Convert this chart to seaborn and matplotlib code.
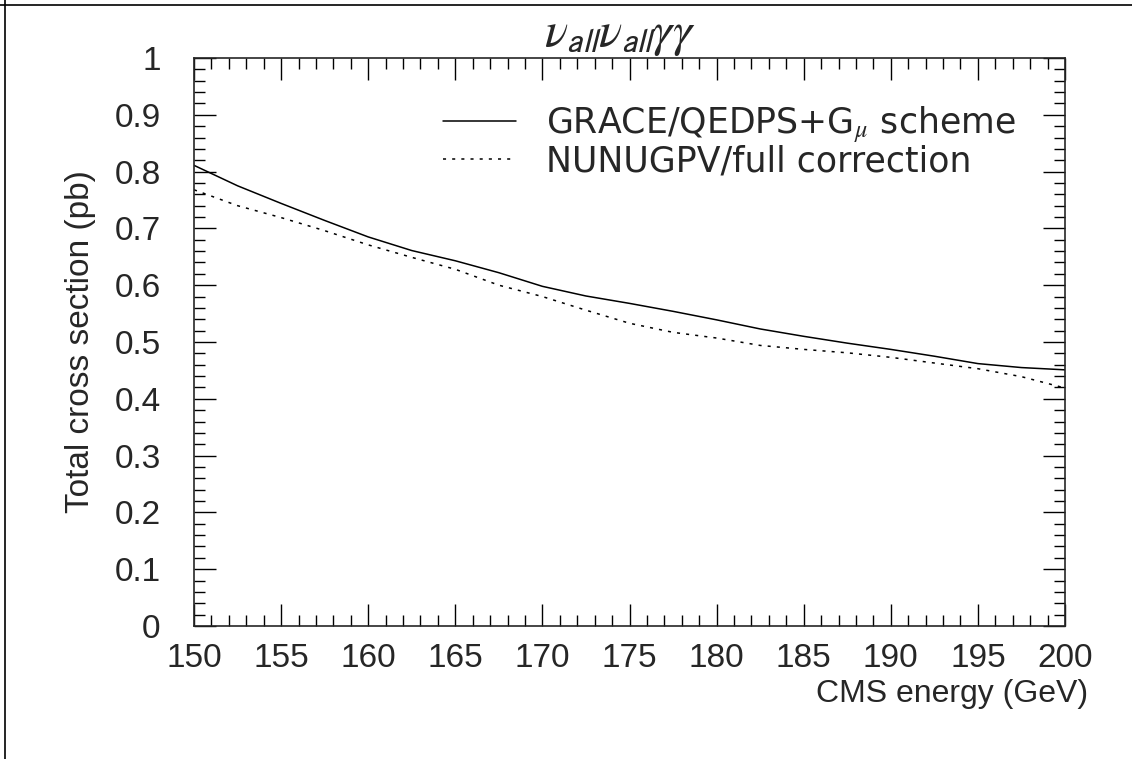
"""
Total cross section for nu nu gamma gamma versus CMS energy.
"""

import numpy as np
import pandas as pd
import seaborn as sns
import matplotlib.pyplot as plt
from matplotlib.lines import Line2D
from matplotlib.ticker import MultipleLocator

# Energies (GeV) and cross sections (pb)
energy = [150, 152.5, 155, 157.5, 160, 162.5, 165, 167.5, 170, 172.5, 175,
          177.5, 180, 182.5, 185, 187.5, 190, 192.5, 195, 197.5, 200]
grace = [0.811, 0.775, 0.744, 0.714, 0.685, 0.661, 0.643, 0.622, 0.598, 0.581,
         0.568, 0.554, 0.539, 0.523, 0.510, 0.498, 0.487, 0.475, 0.462, 0.455, 0.451]
nunugpv = [0.768, 0.740, 0.719, 0.696, 0.671, 0.649, 0.628, 0.600, 0.580, 0.556,
           0.533, 0.517, 0.507, 0.494, 0.487, 0.481, 0.473, 0.463, 0.453, 0.439, 0.419]

labels = [r'GRACE/QEDPS+G$_{\mu}$ scheme', 'NUNUGPV/full correction']

df = pd.DataFrame({'energy': energy * 2,
                   'xsec': grace + nunugpv,
                   'model': [labels[0]] * len(energy) + [labels[1]] * len(energy)})

sns.set_style('ticks')
plt.rcParams['font.family'] = ['Liberation Sans', 'DejaVu Sans']
plt.rcParams['mathtext.fontset'] = 'stix'

fig = plt.figure(figsize=(11.32, 7.59), dpi=100)
ax = fig.add_axes([0.1714, 0.1752, 0.7694, 0.7484])

sns.lineplot(data=df, x='energy', y='xsec', style='model',
             dashes={labels[0]: '', labels[1]: (2, 4)},
             color='black', linewidth=1.1, ax=ax)

ax.set_xlim(150, 200)
ax.set_ylim(0, 1)
ax.xaxis.set_major_locator(MultipleLocator(5))
ax.xaxis.set_minor_locator(MultipleLocator(1))
ax.yaxis.set_major_locator(MultipleLocator(0.1))
ax.yaxis.set_minor_locator(MultipleLocator(0.02))
ax.yaxis.set_major_formatter(lambda v, p: '0' if abs(v) < 1e-9 else ('1' if abs(v - 1) < 1e-9 else f'{v:.1f}'))
ax.tick_params(which='both', direction='in', top=True, right=True,
               labelsize=24, color='black', width=1)
ax.tick_params(which='major', length=16)
ax.tick_params(which='minor', length=8)
ax.tick_params(axis='x', which='major', pad=12)
ax.tick_params(axis='y', which='major', pad=24)
for s in ax.spines.values():
    s.set_linewidth(1.2)

ax.set_xlabel('CMS energy (GeV)', fontsize=23, ha='right', x=1.026, labelpad=4)
ax.set_ylabel('Total cross section (pb)', fontsize=24, labelpad=13)
ax.set_title(r'$\nu_{\mathsf{all}}\nu_{\mathsf{all}}\gamma\gamma$', fontsize=35,
             x=0.489, pad=1)

leg = ax.legend(loc='upper left', bbox_to_anchor=(0.286, 0.919), frameon=False,
                borderpad=0, borderaxespad=0, handlelength=2.1, handletextpad=0.85,
                labelspacing=-0.02, prop={'family': 'DejaVu Sans', 'size': 25})

# frame lines on the page
fig.add_artist(Line2D([0, 1], [0.993, 0.993], color='black', linewidth=1.2))
fig.add_artist(Line2D([0.0045, 0.0045], [0, 1], color='black', linewidth=1.2))

fig.savefig('out.png', dpi=100)
